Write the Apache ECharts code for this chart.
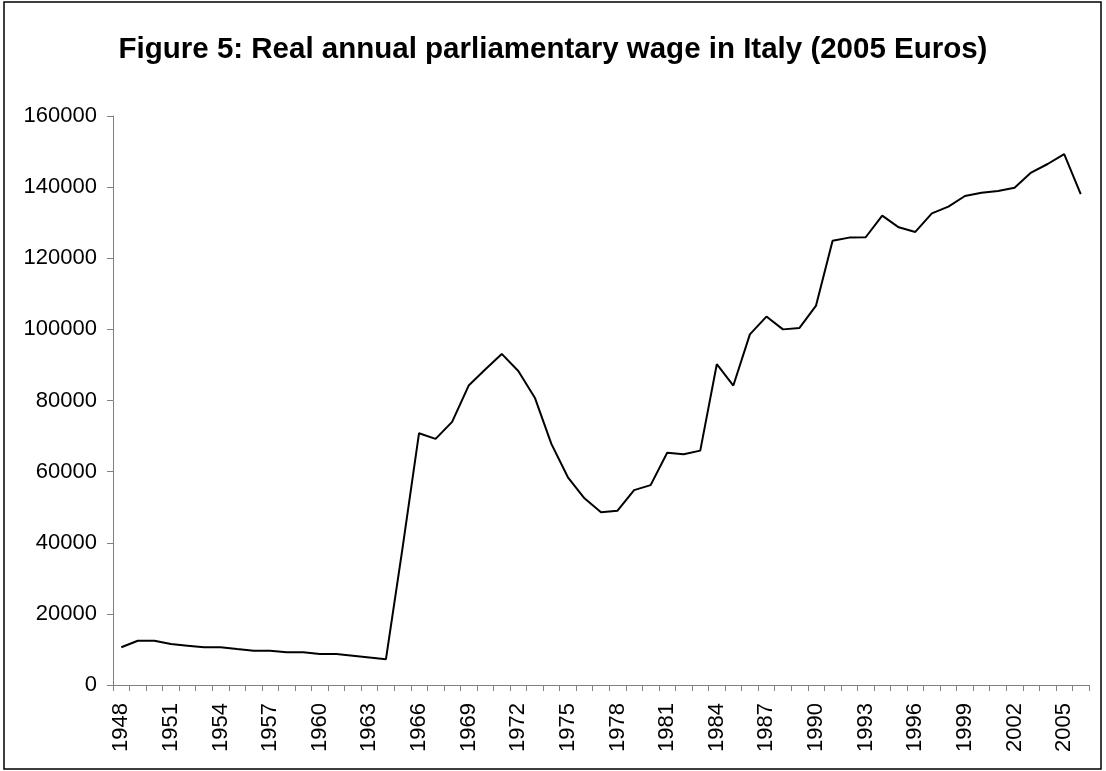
<!DOCTYPE html>
<html>
<head>
<meta charset="utf-8">
<script src="https://cdn.jsdelivr.net/npm/echarts@6/dist/echarts.min.js"></script>
<style>
  html, body { margin: 0; padding: 0; background: #fff; }
  #main { width: 1106px; height: 771px; }
</style>
</head>
<body>
<div id="main"></div>
<script>
// years 1948 - 2006
var years = [];
for (var y = 1948; y <= 2006; y++) { years.push(String(y)); }

// real annual parliamentary wage, 2005 euros
var wage = [
  10600, 12450, 12450, 11500, 11050, 10600, 10600, 10100, 9650, 9650,   // 1948-1957
  9200, 9200, 8700, 8700, 8250, 7750, 7250, 38400, 70800, 69200,        // 1958-1967
  74000, 84200, 88700, 93100, 88300, 80800, 67800, 58400, 52500, 48600, // 1968-1977
  49000, 54800, 56200, 65300, 64900, 65900, 90200, 84200, 98600, 103600,// 1978-1987
  100000, 100400, 106700, 124900, 125800, 125900, 132000, 128700, 127400, 132600, // 1988-1997
  134500, 137500, 138400, 138900, 139800, 144100, 146500, 149300, 138000           // 1998-2006
];

var yMin = 0;
var yMax = 160000;
var yStep = 20000;

var font = "'Liberation Sans', Arial, sans-serif";
var chart = echarts.init(document.getElementById('main'));

var option = {
    backgroundColor: '#fff',
    animation: false,
    title: {
        text: 'Figure 5: Real annual parliamentary wage in Italy (2005 Euros)',
        left: 'center',
        top: 30,
        textStyle: {
            fontFamily: font,
            fontSize: 29.5,
            fontWeight: 'bold',
            color: '#000'
        }
    },
    graphic: [{
        type: 'rect',
        shape: { x: 4, y: 2, width: 1097, height: 767 },
        style: { fill: 'none', stroke: '#000', lineWidth: 1.5 },
        silent: true
    }],
    grid: {
        left: 113,
        right: 17,
        top: 116,
        bottom: 86
    },
    xAxis: {
        type: 'category',
        data: years,
        boundaryGap: true,
        axisLine: { lineStyle: { color: '#808080', width: 1 } },
        axisTick: { show: true, interval: 0, length: 6, lineStyle: { color: '#808080' } },
        axisLabel: {
            interval: 2,
            rotate: 90,
            margin: 18,
            color: '#000',
            fontFamily: font,
            fontSize: 22
        },
        splitLine: { show: false }
    },
    yAxis: {
        type: 'value',
        min: yMin,
        max: yMax,
        interval: yStep,
        axisLine: { show: true, lineStyle: { color: '#808080', width: 1 } },
        axisTick: { show: true, length: 6, lineStyle: { color: '#808080' } },
        axisLabel: {
            margin: 16,
            color: '#000',
            fontFamily: font,
            fontSize: 22,
            formatter: function (v) { return String(v); }
        },
        splitLine: { show: false }
    },
    series: [{
        name: 'wage',
        type: 'line',
        data: wage,
        symbol: 'none',
        lineStyle: { color: '#000', width: 2 }
    }]
};

chart.setOption(option);
</script>
</body>
</html>
